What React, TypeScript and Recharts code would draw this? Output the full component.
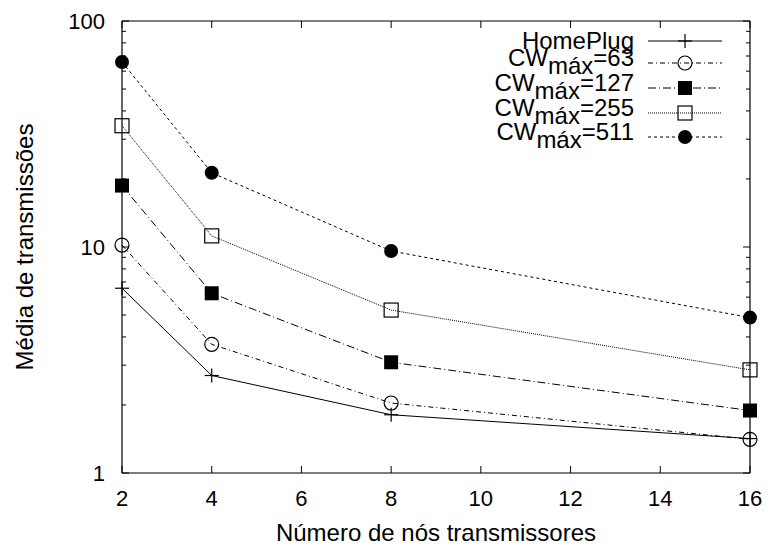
import React from "react";
import { LineChart, Line, XAxis, YAxis, ReferenceLine } from "recharts";

// numero de nos transmissores (eixo x)
const nodes = [2, 4, 8, 16];
// media de transmissoes por configuracao
const homePlug = [6.57, 2.7, 1.81, 1.42];
const cw63 = [10.2, 3.71, 2.04, 1.41];
const cw127 = [18.7, 6.24, 3.09, 1.89];
const cw255 = [34.4, 11.2, 5.26, 2.86];
const cw511 = [65.9, 21.3, 9.6, 4.87];

const xTicks = [2, 4, 6, 8, 10, 12, 14, 16];
const yTicks = [1, 2, 3, 4, 5, 6, 7, 8, 9, 10, 20, 30, 40, 50, 60, 70, 80, 90, 100];
const yLabels = [1, 10, 100];

const xTitle = "Número de nós transmissores";
const yTitle = "Média de transmissões";

const data = nodes.map((n, i) => ({
  n,
  hp: homePlug[i],
  c63: cw63[i],
  c127: cw127[i],
  c255: cw255[i],
  c511: cw511[i],
}));

// layout
const W = 769;
const H = 547;
const PL = 122;
const PR = 750;
const PT = 21;
const PB = 473;
const FONT = "'Liberation Sans', Arial, Helvetica, sans-serif";

const series = [
  { key: "hp", label: "HomePlug", cw: "", shape: "plus", dash: undefined, legendY: 41 },
  { key: "c63", label: "CW", cw: "=63", shape: "circleOpen", dash: "5 3 1 3", legendY: 63 },
  { key: "c127", label: "CW", cw: "=127", shape: "squareFilled", dash: "8 3 1 3", legendY: 88 },
  { key: "c255", label: "CW", cw: "=255", shape: "squareOpen", dash: "1 1", legendY: 113 },
  { key: "c511", label: "CW", cw: "=511", shape: "circleFilled", dash: "3 3", legendY: 137 },
];

function Marker({ shape, cx, cy }: { shape: string; cx: number; cy: number }) {
  const r = 7;
  if (shape === "plus")
    return (
      <g stroke="#000" strokeWidth={1.2}>
        <line x1={cx - r} x2={cx + r} y1={cy} y2={cy} />
        <line x1={cx} x2={cx} y1={cy - r} y2={cy + r} />
      </g>
    );
  if (shape === "circleOpen")
    return <circle cx={cx} cy={cy} r={r} fill="none" stroke="#000" strokeWidth={1.2} />;
  if (shape === "circleFilled") return <circle cx={cx} cy={cy} r={r} fill="#000" />;
  if (shape === "squareFilled")
    return <rect x={cx - r} y={cy - r} width={2 * r} height={2 * r} fill="#000" />;
  return (
    <rect x={cx - r} y={cy - r} width={2 * r} height={2 * r} fill="none" stroke="#000" strokeWidth={1.2} />
  );
}

const XTick = (props: any) => {
  const { x, payload } = props;
  return (
    <g>
      <line x1={x} x2={x} y1={PB} y2={PB - 7} stroke="#000" />
      <line x1={x} x2={x} y1={PT} y2={PT + 7} stroke="#000" />
      <text x={x} y={PB + 33} textAnchor="middle" fontSize={22} fontFamily={FONT} fill="#000">
        {payload.value}
      </text>
    </g>
  );
};

const YTick = (props: any) => {
  const { y, payload } = props;
  const major = yLabels.includes(payload.value);
  const len = major ? 7 : 4;
  return (
    <g>
      <line x1={PL} x2={PL + len} y1={y} y2={y} stroke="#000" />
      <line x1={PR} x2={PR - len} y1={y} y2={y} stroke="#000" />
      {major && (
        <text x={PL - 17} y={y + 8} textAnchor="end" fontSize={22} fontFamily={FONT} fill="#000">
          {payload.value}
        </text>
      )}
    </g>
  );
};

function Overlay() {
  return (
    <svg
      width={W}
      height={H}
      style={{ position: "absolute", left: 0, top: 0, pointerEvents: "none" }}
    >
      <text
        x={(PL + PR) / 2}
        y={541}
        textAnchor="middle"
        fontSize={24}
        fontFamily={FONT}
        fill="#000"
      >
        {xTitle}
      </text>
      <text
        transform={`translate(33, ${(PT + PB) / 2}) rotate(-90)`}
        textAnchor="middle"
        fontSize={24}
        fontFamily={FONT}
        fill="#000"
      >
        {yTitle}
      </text>
      {series.map((s) => (
        <g key={s.key}>
          {s.cw ? (
            <text x={634} y={s.legendY + 3} textAnchor="end" fontSize={24} fontFamily={FONT} fill="#000">
              {s.label}
              <tspan dy={8}>máx</tspan>
              <tspan dy={-8}>{s.cw}</tspan>
            </text>
          ) : (
            <text x={634} y={s.legendY + 8} textAnchor="end" fontSize={24} fontFamily={FONT} fill="#000">
              {s.label}
            </text>
          )}
          <line
            x1={648}
            x2={722}
            y1={s.legendY}
            y2={s.legendY}
            stroke="#000"
            strokeWidth={1}
            strokeDasharray={s.dash}
          />
          <Marker shape={s.shape} cx={685} cy={s.legendY} />
        </g>
      ))}
    </svg>
  );
}

export default function App() {
  return (
    <div style={{ position: "absolute", left: 0, top: 0, width: W, height: H, background: "#fff" }}>
      <LineChart
        width={W}
        height={H}
        data={data}
        margin={{ top: PT, right: W - PR, bottom: 0, left: 0 }}
      >
        <XAxis
          dataKey="n"
          type="number"
          domain={[2, 16]}
          ticks={xTicks}
          interval={0}
          height={H - PB}
          tick={XTick}
          tickLine={false}
          axisLine={{ stroke: "#000", strokeWidth: 1.2 }}
        />
        <YAxis
          type="number"
          scale="log"
          domain={[1, 100]}
          allowDataOverflow
          ticks={yTicks}
          interval={0}
          width={PL}
          tick={YTick}
          tickLine={false}
          axisLine={{ stroke: "#000", strokeWidth: 1.2 }}
        />
        <ReferenceLine y={100} stroke="#000" strokeWidth={1.2} />
        <ReferenceLine x={16} stroke="#000" strokeWidth={1.2} />
        {series.map((s) => (
          <Line
            key={s.key}
            dataKey={s.key}
            type="linear"
            stroke="#000"
            strokeWidth={1}
            strokeDasharray={s.dash}
            isAnimationActive={false}
            activeDot={false}
            dot={(p: any) => (
              <Marker key={`${s.key}-${p.index}`} shape={s.shape} cx={p.cx} cy={p.cy} />
            )}
          />
        ))}
      </LineChart>
      <Overlay />
    </div>
  );
}
